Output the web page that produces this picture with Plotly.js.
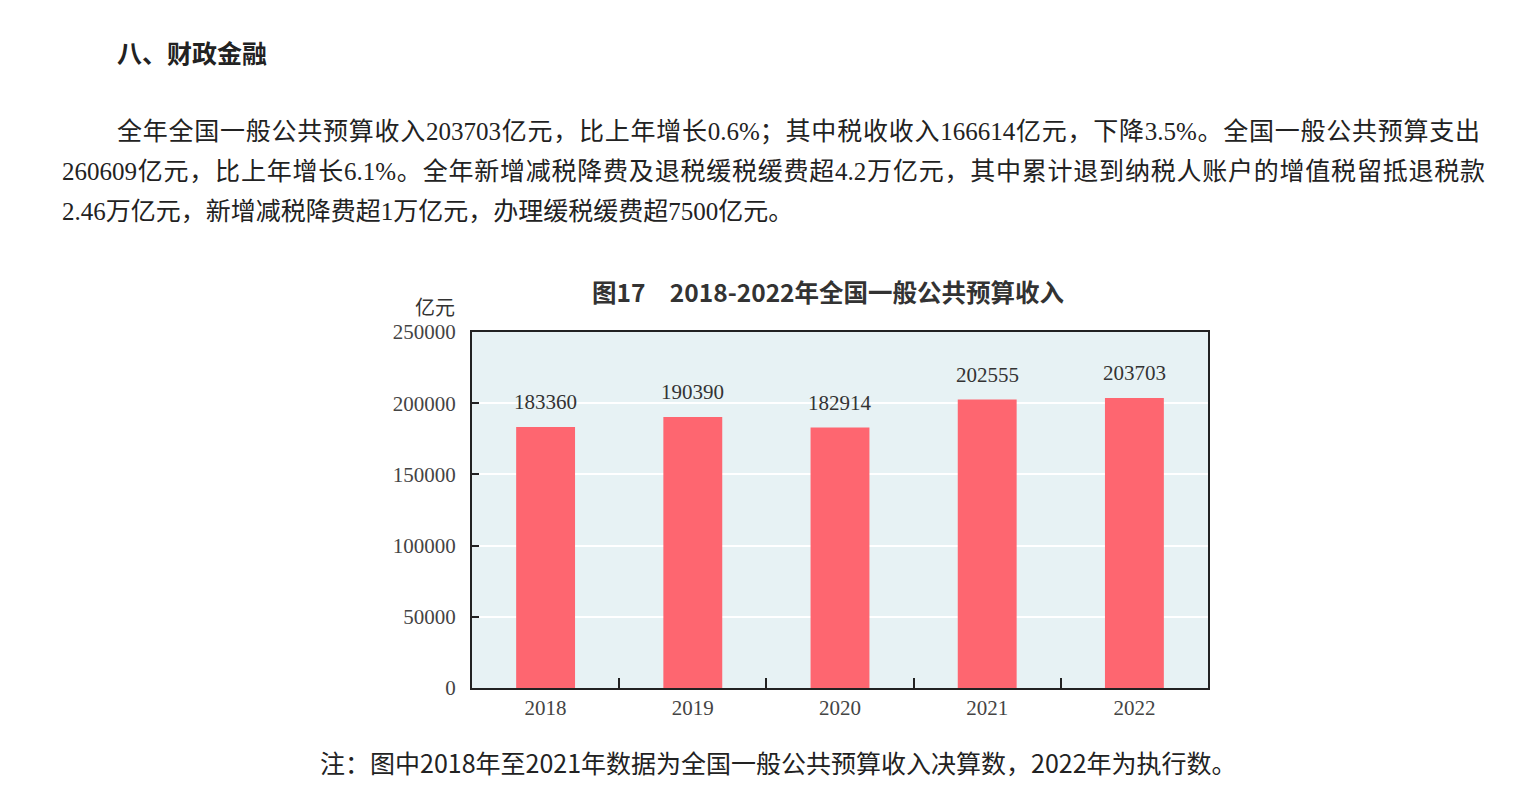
<!DOCTYPE html>
<html>
<head>
<meta charset="utf-8">
<script src="https://cdn.plot.ly/plotly-3.0.1.min.js"></script>
<style>
  html, body { margin: 0; padding: 0; background: #fff; }
  #page { position: relative; width: 1536px; height: 800px; overflow: hidden; background: #fff; }
  #chart { position: absolute; left: 0; top: 0; width: 1536px; height: 800px; }
  .txt { position: absolute; white-space: nowrap; color: #222; z-index: 2;
         font-family: "Liberation Serif", "Noto Sans CJK SC", serif; font-size: 25px; line-height: 40px; }
  .just { text-align: justify; text-align-last: justify; }
  .head { font-family: "Noto Sans CJK SC", sans-serif; font-weight: bold; font-size: 25px; }
  .note { font-family: "Noto Sans CJK SC", sans-serif; font-size: 25px; color: #222; }
</style>
</head>
<body>
<div id="page">
  <div id="chart"></div>
  <div class="txt head" style="left:117px; top:32px;">八、财政金融</div>
  <div class="txt just" style="left:117px; top:112px; width:1363px;">全年全国一般公共预算收入203703亿元，比上年增长0.6%；其中税收收入166614亿元，下降3.5%。全国一般公共预算支出</div>
  <div class="txt just" style="left:62px; top:152px; width:1423px;">260609亿元，比上年增长6.1%。全年新增减税降费及退税缓税缓费超4.2万亿元，其中累计退到纳税人账户的增值税留抵退税款</div>
  <div class="txt" style="left:62px; top:192px;">2.46万亿元，新增减税降费超1万亿元，办理缓税缓费超7500亿元。</div>
  <div class="txt note" style="left:320px; top:742px;">注：图中2018年至2021年数据为全国一般公共预算收入决算数，2022年为执行数。</div>
</div>
<script>
const years = ['2018', '2019', '2020', '2021', '2022'];
const revenue = [183360, 190390, 182914, 202555, 203703];
const yTickVals = [0, 50000, 100000, 150000, 200000, 250000];
const yTickText = ['0', '50000', '100000', '150000', '200000', '250000'];
const chartTitle = '图17　2018-2022年全国一般公共预算收入';
const unitLabel = '亿元';

const serif = 'Liberation Serif, Noto Sans CJK SC, serif';

const trace = {
  type: 'bar',
  x: years,
  y: revenue,
  width: 0.4,
  marker: { color: '#fe6670', line: { width: 0 } },
  hoverinfo: 'skip'
};

// category axis: annotations placed by category index
const labelAnns = years.map((yr, i) => ({
  x: i, y: revenue[i], xref: 'x', yref: 'y',
  text: String(revenue[i]), showarrow: false,
  yanchor: 'middle', yshift: 25,
  font: { family: serif, size: 21, color: '#333' }
}));

const layout = {
  width: 1536, height: 800,
  margin: { l: 472, r: 328, t: 332, b: 112, pad: 0 },
  paper_bgcolor: 'rgba(0,0,0,0)',
  plot_bgcolor: '#e7f2f4',
  showlegend: false,
  title: {
    text: chartTitle,
    xref: 'paper', x: (828 - 472) / 736, xanchor: 'center',
    yref: 'container', y: 1 - 293 / 800, yanchor: 'middle',
    font: { family: 'Noto Sans CJK SC, sans-serif', size: 24.5, weight: 'bold', color: '#333' }
  },
  xaxis: {
    type: 'category',
    range: [-0.5, years.length - 0.5],
    autorange: false,
    showline: true, linecolor: '#222', linewidth: 2, mirror: true,
    ticks: 'inside', tickson: 'boundaries', ticklen: 10, tickwidth: 2, tickcolor: '#222',
    showgrid: false, zeroline: false,
    tickfont: { family: serif, size: 21, color: '#444' },
    ticklabelstandoff: 0
  },
  yaxis: {
    range: [0, 250000],
    autorange: false,
    tickmode: 'array', tickvals: yTickVals, ticktext: yTickText,
    showline: true, linecolor: '#222', linewidth: 2, mirror: true,
    ticks: 'inside', ticklen: 7, tickwidth: 2, tickcolor: '#222',
    showgrid: true, gridcolor: '#ffffff', gridwidth: 2, zeroline: false,
    tickfont: { family: serif, size: 21, color: '#444' },
    ticklabelstandoff: 10
  },
  annotations: labelAnns.concat([{
    xref: 'paper', yref: 'paper',
    x: (435 - 472) / 736, y: (688 - 306) / 356,
    xanchor: 'center', yanchor: 'middle',
    text: unitLabel, showarrow: false,
    font: { family: 'Noto Sans CJK SC, sans-serif', size: 20, color: '#333' }
  }])
};

Plotly.newPlot('chart', [trace], layout, { displayModeBar: false, staticPlot: true });
</script>
</body>
</html>
